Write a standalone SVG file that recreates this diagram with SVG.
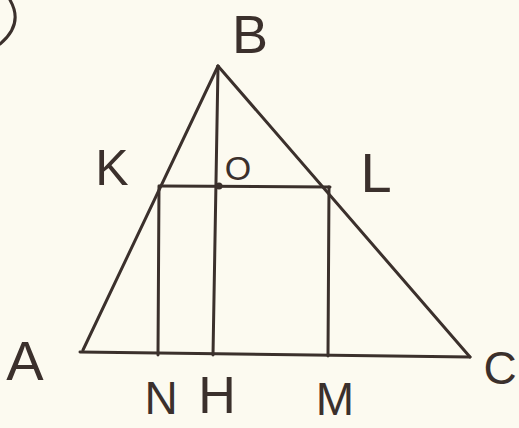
<svg xmlns="http://www.w3.org/2000/svg" width="519" height="428" viewBox="0 0 519 428">
<style>
.ln{stroke:#3b302c;stroke-width:3;fill:none;stroke-linecap:round;stroke-linejoin:round}
.lb{font-family:"Liberation Sans",Arial,sans-serif;fill:#3b302c;text-anchor:middle}
</style>
<rect width="519" height="428" fill="#fcfaf0"/>
<path class="ln" d="M 0 44 Q 24 24 10 0"/>
<g id="connectors">
<line class="ln" x1="83" y1="350" x2="218" y2="66"/>
<line class="ln" x1="218" y1="66" x2="470" y2="357"/>
<line class="ln" x1="80" y1="352" x2="470" y2="357"/>
<line class="ln" x1="218" y1="66" x2="213" y2="355"/>
<line class="ln" x1="160" y1="186" x2="330" y2="187"/>
<line class="ln" x1="159" y1="186" x2="158" y2="355"/>
<line class="ln" x1="329" y1="187" x2="328" y2="356"/>
</g>
<g id="node-O"><circle cx="219" cy="186" r="3.5" fill="#3b302c"/><text class="lb" x="238" y="180" font-size="34">O</text></g>
<g id="node-B"><text class="lb" x="250" y="53" font-size="54">B</text></g>
<g id="node-K"><text class="lb" x="112" y="185" font-size="50">K</text></g>
<g id="node-L"><text class="lb" x="376" y="192" font-size="56">L</text></g>
<g id="node-A"><text class="lb" x="25" y="380" font-size="56">A</text></g>
<g id="node-C"><text class="lb" x="500" y="384" font-size="46">C</text></g>
<g id="node-N"><text class="lb" x="161" y="414" font-size="46">N</text></g>
<g id="node-H"><text class="lb" x="217" y="413" font-size="52">H</text></g>
<g id="node-M"><text class="lb" x="335" y="415" font-size="46">M</text></g>
</svg>
